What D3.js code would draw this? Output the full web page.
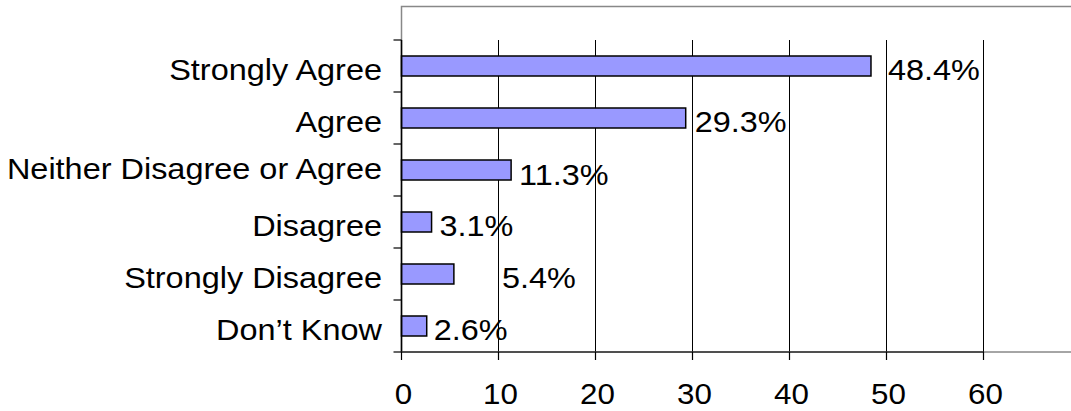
<!DOCTYPE html>
<html>
<head>
<meta charset="utf-8">
<script src="https://cdn.jsdelivr.net/npm/d3@7"></script>
<style>
  body { margin: 0; background: #fff; }
  text { font-family: "Liberation Sans", Arial, sans-serif; fill: #000; }
</style>
</head>
<body>
<div id="chart"></div>
<script>
// chart data
const categories = ["Strongly Agree", "Agree", "Neither Disagree or Agree", "Disagree", "Strongly Disagree", "Don\u2019t Know"];
const percents = [48.4, 29.3, 11.3, 3.1, 5.4, 2.6];
const xTicks = [0, 10, 20, 30, 40, 50, 60];

// hand placed label offsets, as in the original sheet
const labelGap = [18, 10, 9, 9, 49, 8];
const labelDrop = [0, 0, 1.5, 0, 0, 0];
const catDrop = [0, 0, -4.5, 0, 0, 0];

const width = 1071, height = 411;

const svg = d3.select("#chart").append("svg")
  .attr("width", width)
  .attr("height", height);

const x = d3.scaleLinear().domain([0, 60]).range([401.5, 983.5]);
const y = d3.scaleBand().domain(categories).range([40, 352]);
const barH = 20;

// plot area frame (grey), wider than the axis
svg.append("rect")
  .attr("x", 401.5).attr("y", 6.5)
  .attr("width", 700).attr("height", 345.5)
  .attr("fill", "none")
  .attr("stroke", "#888")
  .attr("stroke-width", 1.5);

// vertical gridlines
svg.append("g").selectAll("line")
  .data(xTicks.slice(1))
  .enter().append("line")
  .attr("x1", d => x(d)).attr("x2", d => x(d))
  .attr("y1", 40).attr("y2", 352)
  .attr("stroke", "#000")
  .attr("stroke-width", 1);

// bars
svg.append("g").selectAll("rect")
  .data(percents)
  .enter().append("rect")
  .attr("x", x(0))
  .attr("y", (d, i) => y(categories[i]) + y.bandwidth() / 2 - barH / 2)
  .attr("width", d => x(d) - x(0))
  .attr("height", barH)
  .attr("fill", "#9999ff")
  .attr("stroke", "#000")
  .attr("stroke-width", 1.5);

// value labels
svg.append("g").selectAll("text")
  .data(percents)
  .enter().append("text")
  .attr("transform", (d, i) => "translate(" + (x(d) + labelGap[i] - 1) + "," +
    (y(categories[i]) + y.bandwidth() / 2 + 13.5 + labelDrop[i]) + ") scale(1.08,1)")
  .style("font-size", "30px")
  .text(d => d + "%");

// y axis line and ticks
svg.append("line")
  .attr("x1", x(0)).attr("x2", x(0))
  .attr("y1", 40).attr("y2", 352)
  .attr("stroke", "#000").attr("stroke-width", 1.5);

const yBounds = categories.map(c => y(c)).concat([y.range()[1]]);
svg.append("g").selectAll("line")
  .data(yBounds)
  .enter().append("line")
  .attr("x1", x(0) - 8).attr("x2", x(0))
  .attr("y1", d => d).attr("y2", d => d)
  .attr("stroke", "#000").attr("stroke-width", 1.2);

svg.append("g").selectAll("text")
  .data(categories)
  .enter().append("text")
  .attr("text-anchor", "end")
  .attr("transform", (d, i) => "translate(382," + (y(d) + y.bandwidth() / 2 + 13.5 + catDrop[i]) + ") scale(1.1,1)")
  .style("font-size", "29.5px")
  .text(d => d);

// x axis line, ticks, labels
svg.append("line")
  .attr("x1", x(0)).attr("x2", x(60))
  .attr("y1", 352).attr("y2", 352)
  .attr("stroke", "#333").attr("stroke-width", 1.5);

svg.append("g").selectAll("line")
  .data(xTicks)
  .enter().append("line")
  .attr("x1", d => x(d)).attr("x2", d => x(d))
  .attr("y1", 352).attr("y2", 360)
  .attr("stroke", "#000").attr("stroke-width", 1.2);

svg.append("g").selectAll("text")
  .data(xTicks)
  .enter().append("text")
  .attr("text-anchor", "middle")
  .attr("transform", d => "translate(" + (x(d) + 2) + ",403.5) scale(1.08,1)")
  .style("font-size", "29px")
  .text(d => d);
</script>
</body>
</html>
